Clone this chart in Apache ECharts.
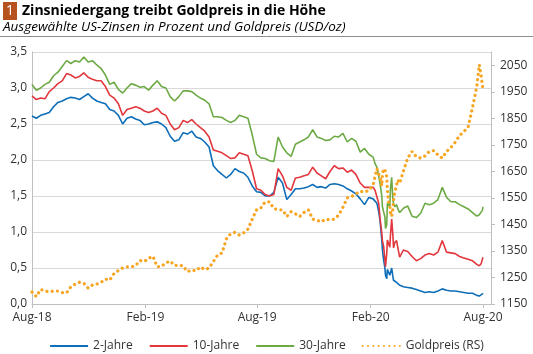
<!DOCTYPE html>
<html><head><meta charset="utf-8">
<script src="https://cdn.jsdelivr.net/npm/echarts@6/dist/echarts.min.js"></script>
<style>html,body{margin:0;padding:0;background:#fff}#c{width:533px;height:354px}</style>
</head><body><div id="c"></div>
<script>
const dates = [
'2018-08-01','2018-08-08','2018-08-15','2018-08-22','2018-08-29','2018-09-05','2018-09-12','2018-09-19','2018-09-26','2018-10-03',
'2018-10-10','2018-10-17','2018-10-24','2018-10-31','2018-11-07','2018-11-14','2018-11-21','2018-11-28','2018-12-05','2018-12-12',
'2018-12-19','2018-12-26','2019-01-02','2019-01-09','2019-01-16','2019-01-23','2019-01-30','2019-02-06','2019-02-13','2019-02-20',
'2019-02-27','2019-03-06','2019-03-13','2019-03-20','2019-03-27','2019-04-03','2019-04-10','2019-04-17','2019-04-24','2019-05-01',
'2019-05-08','2019-05-15','2019-05-22','2019-05-29','2019-06-05','2019-06-12','2019-06-19','2019-06-26','2019-07-03','2019-07-10',
'2019-07-17','2019-07-24','2019-07-31','2019-08-07','2019-08-14','2019-08-21','2019-08-28','2019-09-04','2019-09-11','2019-09-18',
'2019-09-25','2019-10-02','2019-10-09','2019-10-16','2019-10-23','2019-10-30','2019-11-06','2019-11-13','2019-11-20','2019-11-27',
'2019-12-04','2019-12-11','2019-12-18','2019-12-25','2020-01-01','2020-01-08','2020-01-15','2020-01-22','2020-01-29','2020-02-05',
'2020-02-08','2020-02-11','2020-02-14','2020-02-16','2020-02-19','2020-02-20','2020-02-22','2020-02-24','2020-02-25','2020-02-27',
'2020-02-28','2020-03-01','2020-03-03','2020-03-04','2020-03-06','2020-03-08','2020-03-09','2020-03-11','2020-03-14','2020-03-16',
'2020-03-19','2020-03-22',
'2020-03-25','2020-04-01','2020-04-08','2020-04-15','2020-04-22','2020-04-29','2020-05-06','2020-05-13','2020-05-20','2020-05-27',
'2020-06-03','2020-06-10','2020-06-17','2020-06-24','2020-07-01','2020-07-08','2020-07-15','2020-07-22',
'2020-07-26','2020-07-29','2020-07-31','2020-08-01'
];

const y2 = [
2.61,2.58,2.62,2.64,2.66,2.74,2.80,2.82,2.85,2.87,
2.86,2.84,2.88,2.92,2.86,2.82,2.80,2.78,2.70,2.68,
2.62,2.50,2.58,2.60,2.57,2.55,2.49,2.50,2.52,2.53,
2.50,2.45,2.33,2.26,2.28,2.38,2.36,2.40,2.32,2.30,
2.25,2.18,1.92,1.85,1.80,1.75,1.80,1.88,1.84,1.82,
1.76,1.64,1.56,1.55,1.50,1.50,1.55,1.76,1.68,1.45,
1.52,1.60,1.60,1.61,1.63,1.66,1.62,1.63,1.61,1.66,
1.67,1.66,1.64,1.60,1.57,1.53,1.46,1.38,1.48,1.46,
1.44,1.40,1.28,1.17,0.89,0.75,0.61,0.50,0.40,0.35,
0.48,0.47,0.40,0.38,0.50,0.38,0.33,0.32,0.30,0.28,
0.26,0.24,
0.24,0.23,0.22,0.20,0.18,0.16,0.17,0.16,0.18,0.21,
0.19,0.18,0.18,0.17,0.16,0.15,0.15,0.12,
0.11,0.12,0.14,0.15
];

const y10 = [
2.89,2.84,2.86,2.85,2.95,3.00,3.06,3.10,3.20,3.18,
3.14,3.16,3.21,3.15,3.12,3.10,3.10,3.02,2.90,2.86,
2.78,2.62,2.70,2.72,2.74,2.72,2.68,2.66,2.68,2.72,
2.65,2.62,2.50,2.42,2.45,2.55,2.52,2.56,2.50,2.45,
2.40,2.32,2.14,2.12,2.10,2.06,2.02,2.03,2.10,2.08,
2.06,1.85,1.60,1.58,1.52,1.50,1.52,1.88,1.78,1.62,
1.58,1.75,1.76,1.78,1.80,1.90,1.82,1.78,1.74,1.84,
1.92,1.88,1.89,1.83,1.86,1.80,1.68,1.62,1.62,1.62,
1.58,1.58,1.40,1.20,0.98,0.88,0.80,0.62,0.52,0.70,
0.89,0.84,0.79,0.95,1.18,0.95,0.78,0.85,0.88,0.78,
0.65,0.63,
0.75,0.73,0.66,0.60,0.63,0.68,0.70,0.68,0.72,0.88,
0.72,0.71,0.70,0.66,0.64,0.62,0.60,0.55,
0.53,0.56,0.62,0.65
];

const y30 = [
3.05,2.97,3.00,3.05,3.08,3.17,3.22,3.30,3.38,3.34,
3.38,3.36,3.43,3.36,3.38,3.32,3.27,3.18,3.05,3.08,
2.98,2.93,3.00,3.06,3.04,3.01,3.02,2.97,3.04,3.10,
3.02,3.00,2.88,2.82,2.88,2.96,2.96,2.95,2.90,2.86,
2.83,2.78,2.60,2.60,2.59,2.55,2.52,2.55,2.62,2.60,
2.58,2.35,2.08,2.03,2.02,1.99,1.98,2.32,2.18,2.10,
2.05,2.22,2.25,2.28,2.32,2.42,2.32,2.30,2.27,2.28,
2.33,2.32,2.37,2.25,2.30,2.26,2.11,2.16,2.08,2.04,
1.95,1.90,1.78,1.68,1.50,1.35,1.28,1.21,1.05,1.10,
1.40,1.38,1.35,1.60,1.76,1.44,1.40,1.35,1.38,1.32,
1.27,1.30,
1.33,1.36,1.22,1.20,1.26,1.40,1.38,1.40,1.45,1.62,
1.48,1.42,1.42,1.38,1.35,1.32,1.27,1.22,
1.24,1.23,1.30,1.35
];

const gold = [
1195,1178,1205,1199,1196,1199,1199,1193,1192,1215,
1225,1232,1228,1210,1222,1225,1232,1244,1240,1265,
1276,1286,1290,1290,1295,1314,1310,1322,1330,1290,
1292,1305,1312,1295,1297,1293,1272,1278,1275,1290,
1280,1285,1310,1335,1342,1395,1415,1420,1410,1418,
1432,1470,1505,1512,1535,1535,1510,1505,1505,1480,
1498,1490,1480,1495,1505,1470,1465,1460,1470,1467,
1470,1485,1515,1550,1555,1565,1575,1572,1578,1600,
1630,1660,1640,1628,1595,1640,1660,1663,1650,1630,
1580,1535,1516,1495,1480,1510,1540,1570,1600,1618,
1605,1628,
1650,1700,1725,1705,1700,1708,1725,1728,1712,1700,
1725,1740,1760,1785,1800,1817,1890,1970,
2052,2010,1975,1955
];

const leftTicks = [0, 0.5, 1, 1.5, 2, 2.5, 3, 3.5];
const rightTicks = [1150, 1250, 1350, 1450, 1550, 1650, 1750, 1850, 1950, 2050];
const xStart = '2018-08-01';
const xEnd = '2020-08-14';
const xTickDates = ['2018-08-01', '2019-02-01', '2019-08-01', '2020-02-01', '2020-08-01'];
const xTickLabels = ['Aug-18', 'Feb-19', 'Aug-19', 'Feb-20', 'Aug-20'];
const seriesNames = ['2-Jahre', '10-Jahre', '30-Jahre', 'Goldpreis (RS)'];

const FONT = 'Open Sans';
// day offset from the axis start date
function dayOf(s) {
  const p = s.split('-').map(Number);
  const q = xStart.split('-').map(Number);
  return Math.round((Date.UTC(p[0], p[1] - 1, p[2]) - Date.UTC(q[0], q[1] - 1, q[2])) / 86400000);
}
const xTickDays = xTickDates.map(dayOf);

const chart = echarts.init(document.getElementById('c'), null, { renderer: 'canvas' });
const pair = arr => dates.map((d, i) => [dayOf(d), arr[i]]);
const colors = ['#0E6EB8', '#E2373D', '#6DAA45', '#F6A623'];

chart.setOption({
  animation: false,
  textStyle: { fontFamily: FONT },
  graphic: [
    { type: 'rect', shape: { x: 3, y: 2, width: 14, height: 18 }, style: { fill: '#B5521E' } },
    { type: 'text', style: { x: 10, y: 11, text: '1', fill: '#fff', font: '14px "' + FONT + '"', textAlign: 'center', textVerticalAlign: 'middle' } },
    { type: 'text', style: { x: 22, y: 11, text: 'Zinsniedergang treibt Goldpreis in die Höhe', fill: '#000', font: 'bold 14px "' + FONT + '"', textVerticalAlign: 'middle' } },
    { type: 'text', style: { x: 3, y: 27, text: 'Ausgewählte US-Zinsen in Prozent und Goldpreis (USD/oz)', fill: '#000', font: 'italic 13.5px "' + FONT + '"', textVerticalAlign: 'middle' } },
    { type: 'line', shape: { x1: 0, y1: 36.5, x2: 533, y2: 36.5 }, style: { stroke: '#8c8c8c', lineWidth: 1 } }
  ],
  grid: { left: 32, right: 42, top: 52, bottom: 50 },
  legend: {
    data: seriesNames,
    left: 'center', top: 335,
    itemWidth: 38, itemHeight: 14, itemGap: 16,
    itemStyle: { opacity: 0 },
    textStyle: { fontSize: 12, color: '#333', fontFamily: FONT }
  },
  xAxis: {
    type: 'value',
    min: dayOf(xStart), max: dayOf(xEnd),
    axisLine: { lineStyle: { color: '#bfbfbf' } },
    axisTick: { show: true, length: 4, lineStyle: { color: '#bfbfbf' }, customValues: xTickDays },
    axisLabel: {
      customValues: xTickDays, margin: 8, fontSize: 12, color: '#333', fontFamily: FONT,
      formatter: v => { const i = xTickDays.indexOf(v); return i >= 0 ? xTickLabels[i] : ''; }
    },
    splitLine: { show: false }
  },
  yAxis: [
    {
      type: 'value', min: 0, max: 3.5, interval: 0.5,
      axisLine: { show: true, lineStyle: { color: '#bfbfbf' } },
      axisTick: { show: false },
      axisLabel: { fontSize: 12, color: '#333', margin: 5, fontFamily: FONT, formatter: v => v.toFixed(1).replace('.', ',') },
      splitLine: { show: true, lineStyle: { color: '#d9d9d9' } }
    },
    {
      type: 'value', min: 1150, max: 2100, position: 'right',
      axisLine: { show: true, lineStyle: { color: '#bfbfbf' } },
      axisTick: { show: true, length: 4, inside: false, lineStyle: { color: '#bfbfbf' }, customValues: rightTicks },
      axisLabel: { customValues: rightTicks, fontSize: 12, color: '#333', margin: 9, fontFamily: FONT, formatter: v => String(v) },
      splitLine: { show: false }
    }
  ],
  series: [
    { name: seriesNames[0], type: 'line', symbol: 'none', data: pair(y2), lineStyle: { width: 1.6, color: colors[0] }, itemStyle: { color: colors[0] } },
    { name: seriesNames[1], type: 'line', symbol: 'none', data: pair(y10), lineStyle: { width: 1.6, color: colors[1] }, itemStyle: { color: colors[1] } },
    { name: seriesNames[2], type: 'line', symbol: 'none', data: pair(y30), lineStyle: { width: 1.6, color: colors[2] }, itemStyle: { color: colors[2] } },
    { name: seriesNames[3], type: 'line', symbol: 'none', yAxisIndex: 1, data: pair(gold), lineStyle: { width: 3.2, color: colors[3], type: [0.1, 5.2], cap: 'round' }, itemStyle: { color: colors[3] } }
  ]
});
</script>
</body></html>
